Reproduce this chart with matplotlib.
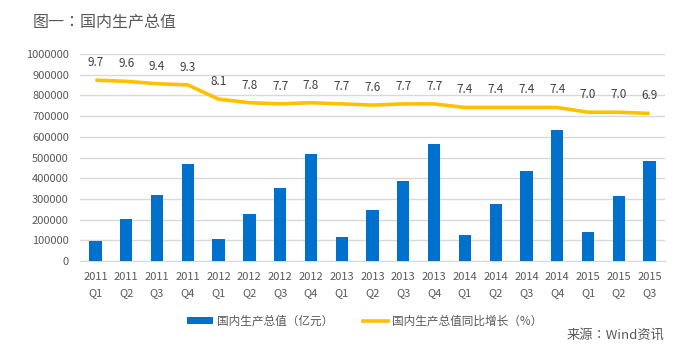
import numpy as np
import matplotlib
matplotlib.use("Agg")
import matplotlib.pyplot as plt
from matplotlib.lines import Line2D
from matplotlib.patches import Patch

plt.rcParams['font.family'] = ['Noto Sans CJK SC', 'DejaVu Sans']

quarters = ["2011\nQ1", "2011\nQ2", "2011\nQ3", "2011\nQ4",
            "2012\nQ1", "2012\nQ2", "2012\nQ3", "2012\nQ4",
            "2013\nQ1", "2013\nQ2", "2013\nQ3", "2013\nQ4",
            "2014\nQ1", "2014\nQ2", "2014\nQ3", "2014\nQ4",
            "2015\nQ1", "2015\nQ2", "2015\nQ3"]
gdp = [98000, 203000, 319000, 469000,
       106000, 227000, 353000, 518000,
       116000, 247000, 387000, 566000,
       126000, 276000, 435000, 634000,
       140000, 315000, 484000]
growth = [9.7, 9.6, 9.4, 9.3, 8.1, 7.8, 7.7, 7.8, 7.7, 7.6, 7.7, 7.7,
          7.4, 7.4, 7.4, 7.4, 7.0, 7.0, 6.9]
yticks = [0, 100000, 200000, 300000, 400000, 500000, 600000, 700000,
          800000, 900000, 1000000]

blue = "#0070CD"
gold = "#FFC000"
gray = "#595959"
tc = ['Noto Sans CJK TC', 'DejaVu Sans']

fig = plt.figure(figsize=(6.91, 3.55), dpi=100)
ax = fig.add_axes([80 / 691, 1 - 261 / 355, 585 / 691, 207 / 355])
x = np.arange(len(quarters))

ax.bar(x, gdp, width=0.4, color=blue, zorder=3)
ax.set_ylim(0, 1000000)
ax.set_xlim(-0.5, len(quarters) - 0.5)
ax.set_yticks(yticks)
ax.set_yticklabels([str(v) for v in yticks])
ax.set_xticks(x)
ax.set_xticklabels(quarters, linespacing=1.8)
ax.grid(axis="y", color="#D9D9D9", linewidth=1, zorder=0)
for s in ["top", "right", "left"]:
    ax.spines[s].set_visible(False)
ax.spines["bottom"].set_color("#D9D9D9")
ax.tick_params(axis="both", length=0, colors=gray, labelsize=8)
ax.tick_params(axis="y", pad=8)
ax.tick_params(axis="x", pad=8)

ax2 = ax.twinx()
ax2.set_ylim(-5.52, 11.9)
ax2.plot(x, growth, color=gold, linewidth=2.6, solid_capstyle="butt", zorder=4)
ax2.axis("off")
for xi, g in zip(x, growth):
    ax2.annotate(f"{g:.1f}", (xi, g), xytext=(0, 8), textcoords="offset points",
                 ha="center", va="bottom", fontsize=8.5, color="#404040")

fig.text(33 / 691, 1 - 22 / 355, "图一：国内生产总值", fontsize=11.5, color=gray,
         va="center", ha="left", family=tc)

handles = [Patch(facecolor=blue, edgecolor="none"),
           Line2D([0], [0], color=gold, linewidth=2.6)]
fig.legend(handles, ["国内生产总值（亿元）", "国内生产总值同比增长（%）"],
           loc="center", bbox_to_anchor=(365 / 691, 1 - 321 / 355), ncol=2,
           frameon=False, fontsize=8.4, labelcolor=gray, handlelength=2.2,
           handleheight=0.5, columnspacing=2.5, handletextpad=0.35)

fig.text(664 / 691, 1 - 335 / 355, "来源：Wind资讯", fontsize=9.5, color=gray,
         ha="right", va="center", family=tc)

fig.savefig("out.png", dpi=100)
